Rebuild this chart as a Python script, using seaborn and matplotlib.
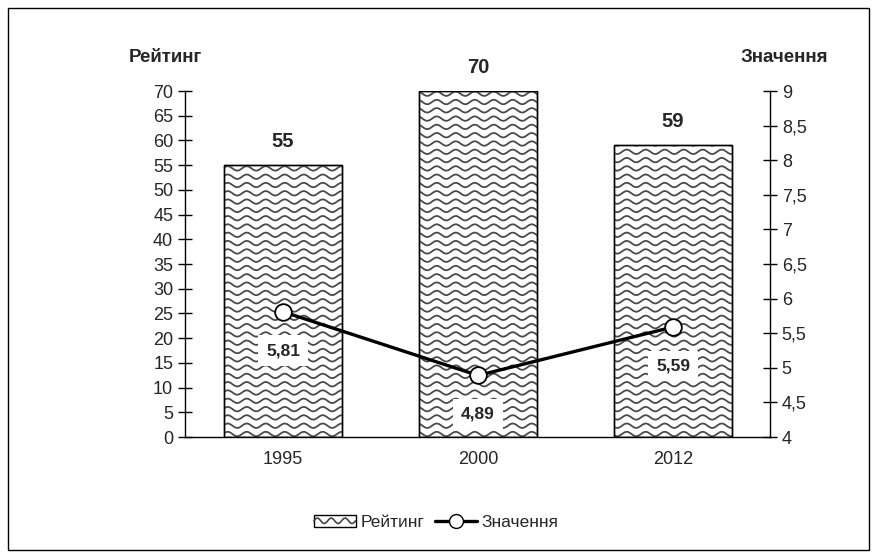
import numpy as np
import pandas as pd
import seaborn as sns
import matplotlib
matplotlib.use('Agg')
from matplotlib import pyplot as plt
from matplotlib.collections import LineCollection
from matplotlib.patches import Rectangle, Patch
from matplotlib.lines import Line2D
from matplotlib.legend_handler import HandlerPatch

years = ['1995', '2000', '2012']
rating = [55, 70, 59]
value = [5.81, 4.89, 5.59]
value_labels = ['5,81', '4,89', '5,59']

sns.set_style('white')
plt.rcParams['font.family'] = ['Liberation Sans', 'DejaVu Sans']

df = pd.DataFrame({'year': years, 'rating': rating, 'value': value})

fig = plt.figure(figsize=(8.78, 5.58), dpi=100)
ax = fig.add_axes([0.2107, 0.2168, 0.6663, 0.6201])
ax2 = ax.twinx()

sns.barplot(data=df, x='year', y='rating', ax=ax, width=0.605,
            color='white', edgecolor='black', linewidth=1, saturation=1)


# wavy hatch (matplotlib has no built-in one): sine lines clipped to each bar
def wave_segments(w_px, h_px, period=19, spacing=8.3, amp=2.2):
    xs = np.linspace(0, w_px, int(w_px) * 2)
    segs = []
    for y0 in np.arange(3, h_px, spacing):
        ys = y0 + amp * np.sin(2 * np.pi * xs / period)
        segs.append(np.column_stack([xs / w_px, ys / h_px]))
    return segs


segs = wave_segments(585, 346)
for bar in ax.patches:
    bar.set_zorder(2)
    lc = LineCollection(segs, colors='#4a4a4a', linewidths=1.3, transform=ax.transAxes, zorder=2.5)
    ax.add_collection(lc, autolim=False)
    lc.set_clip_path(bar)
    edge = Rectangle(bar.get_xy(), bar.get_width(), bar.get_height(), fill=False,
                     ec='black', lw=1, zorder=2.6)
    ax.add_patch(edge)

for i, r in enumerate(rating):
    ax.annotate(str(r), (i, r), xytext=(0, 10), textcoords='offset points',
                ha='center', va='bottom', fontsize=14.5, fontweight='bold')

ax.set_ylim(0, 70)
ax.set_yticks(range(0, 71, 5))
ax.set_xlim(-0.503, 2.497)
ax.set_xlabel('')
ax.set_ylabel('')
ax.set_xticks([0, 1, 2])
ax.set_xticklabels(years)
ax.set_xticks([0.5, 1.5], minor=True)
ax.tick_params(axis='x', which='major', length=0, labelsize=13, pad=10)
ax.tick_params(axis='x', which='minor', length=10, width=1, direction='inout', color='black')
ax.tick_params(axis='y', length=10, width=1, direction='inout', labelsize=13, color='black', left=True)

sns.lineplot(x=np.arange(len(years)), y=value, ax=ax2, color='black', linewidth=2.4,
             marker='o', markersize=12, markerfacecolor='white', markeredgecolor='black',
             markeredgewidth=1.3, zorder=5)
for i, (v, lab) in enumerate(zip(value, value_labels)):
    ax2.annotate(lab, (i, v), xytext=(0, -28), textcoords='offset points',
                 ha='center', va='center', fontsize=12.5, fontweight='bold',
                 bbox=dict(boxstyle='square,pad=0.45', fc='white', ec='none'))

ax2.set_ylim(4, 9)
ax2.set_yticks(np.arange(4, 9.01, 0.5))
ax2.set_yticklabels([('%g' % t).replace('.', ',') for t in np.arange(4, 9.01, 0.5)])
ax2.tick_params(axis='y', length=10, width=1, direction='inout', labelsize=13, color='black', right=True)
ax2.set_xlim(-0.503, 2.497)

for a in (ax, ax2):
    for side in a.spines:
        a.spines[side].set_visible(False)
ax.spines['left'].set_visible(True)
ax.spines['bottom'].set_visible(True)
ax2.spines['right'].set_visible(True)
for s in ('left', 'bottom'):
    ax.spines[s].set_color('black')
    ax.spines[s].set_linewidth(1)
ax2.spines['right'].set_color('black')
ax2.spines['right'].set_linewidth(1)

fig.text(0.188, 0.897, 'Рейтинг', ha='center', va='center', fontsize=13.5, fontweight='bold')
fig.text(0.893, 0.897, 'Значення', ha='center', va='center', fontsize=13.5, fontweight='bold')


class WaveHandler(HandlerPatch):
    def create_artists(self, legend, orig_handle, xdescent, ydescent, width, height, fontsize, trans):
        rect = Rectangle((-xdescent, -ydescent), width, height, fc='white', ec='black', lw=1, transform=trans)
        xs = np.linspace(0, width, 60)
        ys = height / 2 + height * 0.22 * np.sin(2 * np.pi * xs / (width / 3))
        line = Line2D(xs - xdescent, ys - ydescent, color='#444444', lw=1.2, transform=trans)
        return [rect, line]


h_bar = Patch(facecolor='white', edgecolor='black')
h_line = Line2D([], [], color='black', lw=2.4, marker='o', markersize=10,
                markerfacecolor='white', markeredgecolor='black')
fig.legend([h_bar, h_line], ['Рейтинг', 'Значення'], loc='center', bbox_to_anchor=(0.497, 0.064),
           ncol=2, frameon=False, fontsize=12.5, handler_map={Patch: WaveHandler()},
           handlelength=2.4, handletextpad=0.3, columnspacing=0.6)

fig.patches.append(Rectangle((0.009, 0.014), 0.981, 0.972, transform=fig.transFigure,
                             fill=False, ec='black', lw=1))

plt.savefig('out.png', dpi=100)
